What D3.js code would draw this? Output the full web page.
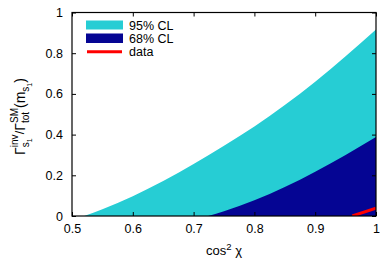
<!DOCTYPE html>
<html><head><meta charset="utf-8">
<script src="https://cdn.jsdelivr.net/npm/d3@7"></script>
<style>
html,body{margin:0;padding:0;background:#fff;}
svg{display:block;font-family:"Liberation Sans",Arial,sans-serif;}
</style></head>
<body>
<svg id="c" width="380" height="258"></svg>
<script>
// ---- data ----
const cl95X = [0.52, 0.55, 0.60, 0.65, 0.70, 0.75, 0.80, 0.85, 0.90, 0.95, 1.00];
const cl95Y = [0.000, 0.033, 0.097, 0.172, 0.255, 0.345, 0.440, 0.545, 0.660, 0.785, 0.916];
const cl68X = [0.724, 0.75, 0.80, 0.85, 0.90, 0.95, 1.00];
const cl68Y = [0.000, 0.023, 0.077, 0.142, 0.218, 0.300, 0.388];
const dataX = [0.961, 1.00];
const dataY = [0.000, 0.038];
const xTicks = [0.5, 0.6, 0.7, 0.8, 0.9, 1];
const yTicks = [0, 0.2, 0.4, 0.6, 0.8, 1];
const legendLabels = ["95% CL", "68% CL", "data"];
const colors = {cl95: "#26cdd4", cl68: "#050593", data: "#ff0000"};

// ---- layout ----
const svg = d3.select("#c");
const L = 72, R = 376, T = 12.5, B = 216;
const x = d3.scaleLinear().domain([0.5, 1]).range([L, R]);
const y = d3.scaleLinear().domain([0, 1]).range([B, T]);
const fs = 12.5;

svg.append("defs").append("clipPath").attr("id", "pc")
  .append("rect").attr("x", L).attr("y", T).attr("width", R - L).attr("height", B - T);

const g = svg.append("g").attr("clip-path", "url(#pc)");
const area = d3.area().x(d => x(d[0])).y0(y(0)).y1(d => y(d[1])).curve(d3.curveMonotoneX);
g.append("path").datum(cl95X.map((v, i) => [v, cl95Y[i]])).attr("d", area).attr("fill", colors.cl95);
g.append("path").datum(cl68X.map((v, i) => [v, cl68Y[i]])).attr("d", area).attr("fill", colors.cl68);
g.append("path").datum(dataX.map((v, i) => [v, dataY[i]]))
  .attr("d", d3.line().x(d => x(d[0])).y(d => y(d[1])))
  .attr("fill", "none").attr("stroke", colors.data).attr("stroke-width", 3);

// ---- axes (inward ticks, mirrored) ----
const tk = 4;
const ax = svg.append("g");
ax.append("g").attr("transform", `translate(0,${B})`)
  .call(d3.axisBottom(x).tickValues(xTicks).tickSize(-tk).tickPadding(8).tickFormat(d3.format("")))
  .call(s => s.select(".domain").remove());
ax.append("g").attr("transform", `translate(0,${T})`)
  .call(d3.axisTop(x).tickValues(xTicks).tickSize(-tk).tickFormat(""))
  .call(s => s.select(".domain").remove());
ax.append("g").attr("transform", `translate(${L},0)`)
  .call(d3.axisLeft(y).tickValues(yTicks).tickSize(-tk).tickPadding(9).tickFormat(d3.format("")))
  .call(s => s.select(".domain").remove());
ax.append("g").attr("transform", `translate(${R},0)`)
  .call(d3.axisRight(y).tickValues(yTicks).tickSize(-tk).tickFormat(""))
  .call(s => s.select(".domain").remove());
ax.selectAll("text").attr("font-size", fs).attr("font-family", "Liberation Sans, Arial, sans-serif").attr("fill", "#000");
ax.selectAll("line").attr("stroke", "#000");
svg.append("rect").attr("x", L).attr("y", T).attr("width", R - L).attr("height", B - T)
  .attr("fill", "none").attr("stroke", "#000").attr("stroke-width", 1.2);

// ---- legend ----
const lg = svg.append("g");
lg.append("rect").attr("x", 86).attr("y", 20.5).attr("width", 37).attr("height", 9).attr("fill", colors.cl95);
lg.append("rect").attr("x", 86).attr("y", 33.5).attr("width", 37).attr("height", 9.5).attr("fill", colors.cl68);
lg.append("line").attr("x1", 87).attr("x2", 122).attr("y1", 51.7).attr("y2", 51.7).attr("stroke", colors.data).attr("stroke-width", 3);
legendLabels.forEach((t, i) => {
  lg.append("text").attr("x", 129).attr("y", 29.8 + i * 13).attr("font-size", fs).text(t);
});

// ---- x label ----
const xl = svg.append("text").attr("x", 224).attr("y", 254.5).attr("text-anchor", "middle").attr("font-size", 13);
xl.append("tspan").text("cos");
xl.append("tspan").attr("dy", -5).attr("font-size", 9.5).text("2");
xl.append("tspan").attr("dy", 5).text(" χ");

// ---- y label (rotated, built piecewise) ----
const yl = svg.append("g").attr("transform", "translate(25,116.5) rotate(-90)");
const inner = yl.append("g");
let cx = 0;
function piece(t, size, dy) {
  const el = inner.append("text").attr("x", cx).attr("y", dy).attr("font-size", size).text(t);
  return el.node().getComputedTextLength();
}
function add(t, size, dy) { cx += piece(t, size, dy); }
function stack(sup, sub, subsub) {
  const w1 = piece(sup, 10, -7.5);
  const w2a = piece(sub, 10, 3.5);
  let w2 = w2a;
  if (subsub) { const s0 = cx; cx += w2a; w2 += piece(subsub, 7, 6.5); cx = s0; }
  cx += Math.max(w1, w2);
}
add("Γ", 14, 0);
stack("inv", "s", "1");
add("/", 13, -1.5);
add("Γ", 14, 0);
stack("SM", "tot");
add("(m", 14, 0);
add("s", 10, 3.5);
add("1", 7, 6.5);
add(")", 14, 0);
inner.attr("transform", `translate(${-cx / 2},0)`);
</script>
</body></html>
